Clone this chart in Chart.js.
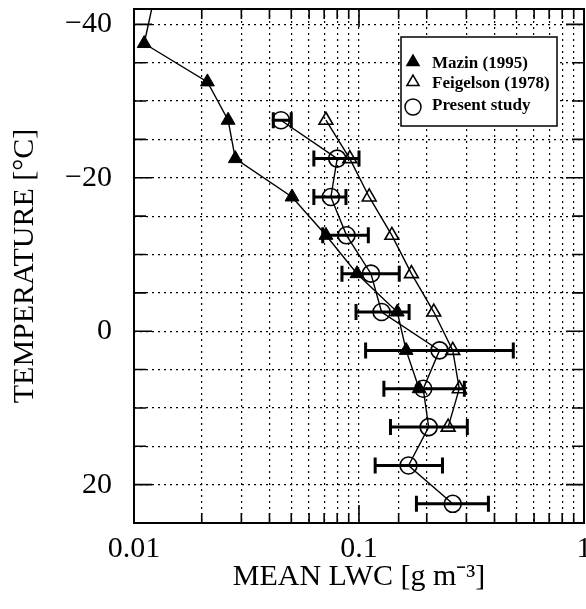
<!DOCTYPE html>
<html>
<head>
<meta charset="utf-8">
<script src="https://cdn.jsdelivr.net/npm/chart.js@4.4.0/dist/chart.umd.min.js"></script>
<style>
  html, body { margin: 0; padding: 0; background: #fff; }
  canvas { display: block; }
</style>
</head>
<body>
<canvas id="lwcChart" width="586" height="609"></canvas>
<script>
// Mean LWC vs temperature
const mazinTemp = [-44, -37.5, -32.5, -27.5, -22.5, -17.5, -12.5, -7.5, -2.5, 2.5, 7.5];
const mazinLwc = [0.0124, 0.0111, 0.0212, 0.0262, 0.0282, 0.0504, 0.0713, 0.098, 0.148, 0.162, 0.185];

const feigTemp = [-27.5, -22.5, -17.5, -12.5, -7.5, -2.5, 2.5, 7.5, 12.5];
const feigLwc = [0.0713, 0.091, 0.111, 0.140, 0.171, 0.215, 0.261, 0.279, 0.249];

const presentTemp = [-27.5, -22.5, -17.5, -12.5, -7.5, -2.5, 2.5, 7.5, 12.5, 17.5, 22.5];
const presentLwc = [0.045, 0.080, 0.075, 0.088, 0.113, 0.126, 0.228, 0.193, 0.204, 0.166, 0.261];
const presentLo = [0.0416, 0.063, 0.063, 0.069, 0.084, 0.097, 0.107, 0.129, 0.138, 0.118, 0.180];
const presentHi = [0.050, 0.100, 0.0875, 0.110, 0.151, 0.167, 0.485, 0.294, 0.303, 0.235, 0.376];

const seriesLabels = ['Mazin (1995)', 'Feigelson (1978)', 'Present study'];
const seriesFilled = [true, false, false];
const xTickLabels = ['0.01', '0.1', '1'];
const yTickLabels = [-40, -20, 0, 20];

const FONT = '"Liberation Serif", "Times New Roman", serif';
Chart.defaults.color = '#000';

function toPoints(xs, ys) {
    return xs.map((x, i) => ({ x: x, y: ys[i] }));
}

// horizontal error bars for the present study
const errorBars = {
    id: 'errorBars',
    beforeDatasetsDraw(chart) {
        const { ctx, scales: { x, y } } = chart;
        ctx.save();
        ctx.strokeStyle = '#000';
        ctx.lineWidth = 3;
        presentTemp.forEach((t, i) => {
            const py = y.getPixelForValue(t);
            const x0 = x.getPixelForValue(presentLo[i]);
            const x1 = x.getPixelForValue(presentHi[i]);
            ctx.beginPath();
            ctx.moveTo(x0, py); ctx.lineTo(x1, py);
            ctx.moveTo(x0, py - 8); ctx.lineTo(x0, py + 8);
            ctx.moveTo(x1, py - 8); ctx.lineTo(x1, py + 8);
            ctx.stroke();
        });
        ctx.restore();
    }
};

// frame, inward tick marks and the boxed legend
const frame = {
    id: 'frame',
    afterDraw(chart) {
        const { ctx, chartArea: a, scales: { x, y } } = chart;
        ctx.save();
        ctx.strokeStyle = '#000';
        ctx.lineWidth = 2;
        ctx.strokeRect(a.left, a.top, a.right - a.left, a.bottom - a.top);

        ctx.lineWidth = 1.6;
        ctx.beginPath();
        y.ticks.forEach(t => {
            const py = y.getPixelForValue(t.value);
            const len = yTickLabels.includes(t.value) ? 18 : 12;
            ctx.moveTo(a.left, py); ctx.lineTo(a.left + len, py);
            ctx.moveTo(a.right, py); ctx.lineTo(a.right - len, py);
        });
        x.ticks.forEach(t => {
            const px = x.getPixelForValue(t.value);
            const l = Math.log10(t.value);
            const len = Math.abs(l - Math.round(l)) < 1e-6 ? 18 : 10;
            ctx.moveTo(px, a.bottom); ctx.lineTo(px, a.bottom - len);
            ctx.moveTo(px, a.top); ctx.lineTo(px, a.top + len);
        });
        ctx.stroke();

        // legend box
        const bx = 401, by = 37, bw = 156, bh = 89;
        ctx.fillStyle = '#fff';
        ctx.fillRect(bx, by, bw, bh);
        ctx.lineWidth = 1.5;
        ctx.strokeRect(bx, by, bw, bh);
        const rows = [62, 82, 104];
        ctx.font = 'bold 17px ' + FONT;
        ctx.textBaseline = 'alphabetic';
        chart.data.datasets.forEach((ds, i) => {
            const my = rows[i] + (i === 2 ? 3 : 0);
            ctx.strokeStyle = '#000';
            ctx.fillStyle = seriesFilled[i] ? '#000' : 'rgba(0,0,0,0)';
            Chart.helpers.drawPoint(ctx, {
                pointStyle: ds.pointStyle,
                radius: i === 2 ? 8 : 7,
                borderWidth: 1.5,
                rotation: 0
            }, 413, my);
            ctx.fillStyle = '#000';
            ctx.fillText(seriesLabels[i], 432, rows[i] + 6);
        });
        ctx.restore();
    }
};

const ctx = document.getElementById('lwcChart').getContext('2d');
new Chart(ctx, {
    type: 'scatter',
    data: {
        datasets: [{
            label: seriesLabels[0],
            data: toPoints(mazinLwc, mazinTemp),
            showLine: true,
            borderColor: '#000',
            borderWidth: 1.4,
            pointStyle: 'triangle',
            pointRadius: mazinTemp.map(t => t < -40 ? 0 : 8),
            pointBackgroundColor: '#000',
            pointBorderColor: '#000',
            pointBorderWidth: 1
        }, {
            label: seriesLabels[1],
            data: toPoints(feigLwc, feigTemp),
            showLine: true,
            borderColor: '#000',
            borderWidth: 1.4,
            pointStyle: 'triangle',
            pointRadius: 8,
            pointBackgroundColor: 'rgba(0,0,0,0)',
            pointBorderColor: '#000',
            pointBorderWidth: 1.6
        }, {
            label: seriesLabels[2],
            data: toPoints(presentLwc, presentTemp),
            showLine: true,
            borderColor: '#000',
            borderWidth: 1.4,
            pointStyle: 'circle',
            pointRadius: 8.5,
            pointBackgroundColor: 'rgba(0,0,0,0)',
            pointBorderColor: '#000',
            pointBorderWidth: 1.6
        }]
    },
    options: {
        responsive: false,
        animation: false,
        layout: { autoPadding: false, padding: { top: 9, right: 2, left: 0, bottom: 0 } },
        plugins: {
            legend: { display: false },
            tooltip: { enabled: false }
        },
        scales: {
            x: {
                type: 'logarithmic',
                min: 0.01,
                max: 1,
                border: { display: false, dash: [2, 4] },
                grid: { color: '#000', lineWidth: 1.2, drawTicks: false },
                ticks: {
                    padding: 8,
                    maxRotation: 0,
                    autoSkip: false,
                    font: { family: FONT, size: 30 },
                    callback: (v) => {
                        const s = String(Math.round(v * 1000) / 1000);
                        return xTickLabels.includes(s) ? s : '';
                    }
                },
                title: {
                    display: true,
                    text: 'MEAN LWC [g m⁻³]',
                    font: { family: FONT, size: 30 },
                    padding: { top: 0, bottom: 14 }
                },
                afterFit: (s) => { s.height = 86; s.paddingLeft = 0; s.paddingRight = 0; }
            },
            y: {
                type: 'linear',
                reverse: true,
                min: -42,
                max: 25,
                border: { display: false, dash: [2, 4] },
                grid: { color: '#000', lineWidth: 1.2, drawTicks: false },
                ticks: {
                    stepSize: 5,
                    includeBounds: false,
                    padding: 22,
                    autoSkip: false,
                    font: { family: FONT, size: 30 },
                    callback: (v) => yTickLabels.includes(v) ? (v < 0 ? '\u2212' + Math.abs(v) : String(v)) : ''
                },
                title: {
                    display: true,
                    text: 'TEMPERATURE [°C]',
                    font: { family: FONT, size: 30 },
                    padding: { top: 7, bottom: 0 }
                },
                afterFit: (s) => { s.width = 134; s.paddingTop = 0; s.paddingBottom = 0; }
            }
        }
    },
    plugins: [errorBars, frame]
});
</script>
</body>
</html>
